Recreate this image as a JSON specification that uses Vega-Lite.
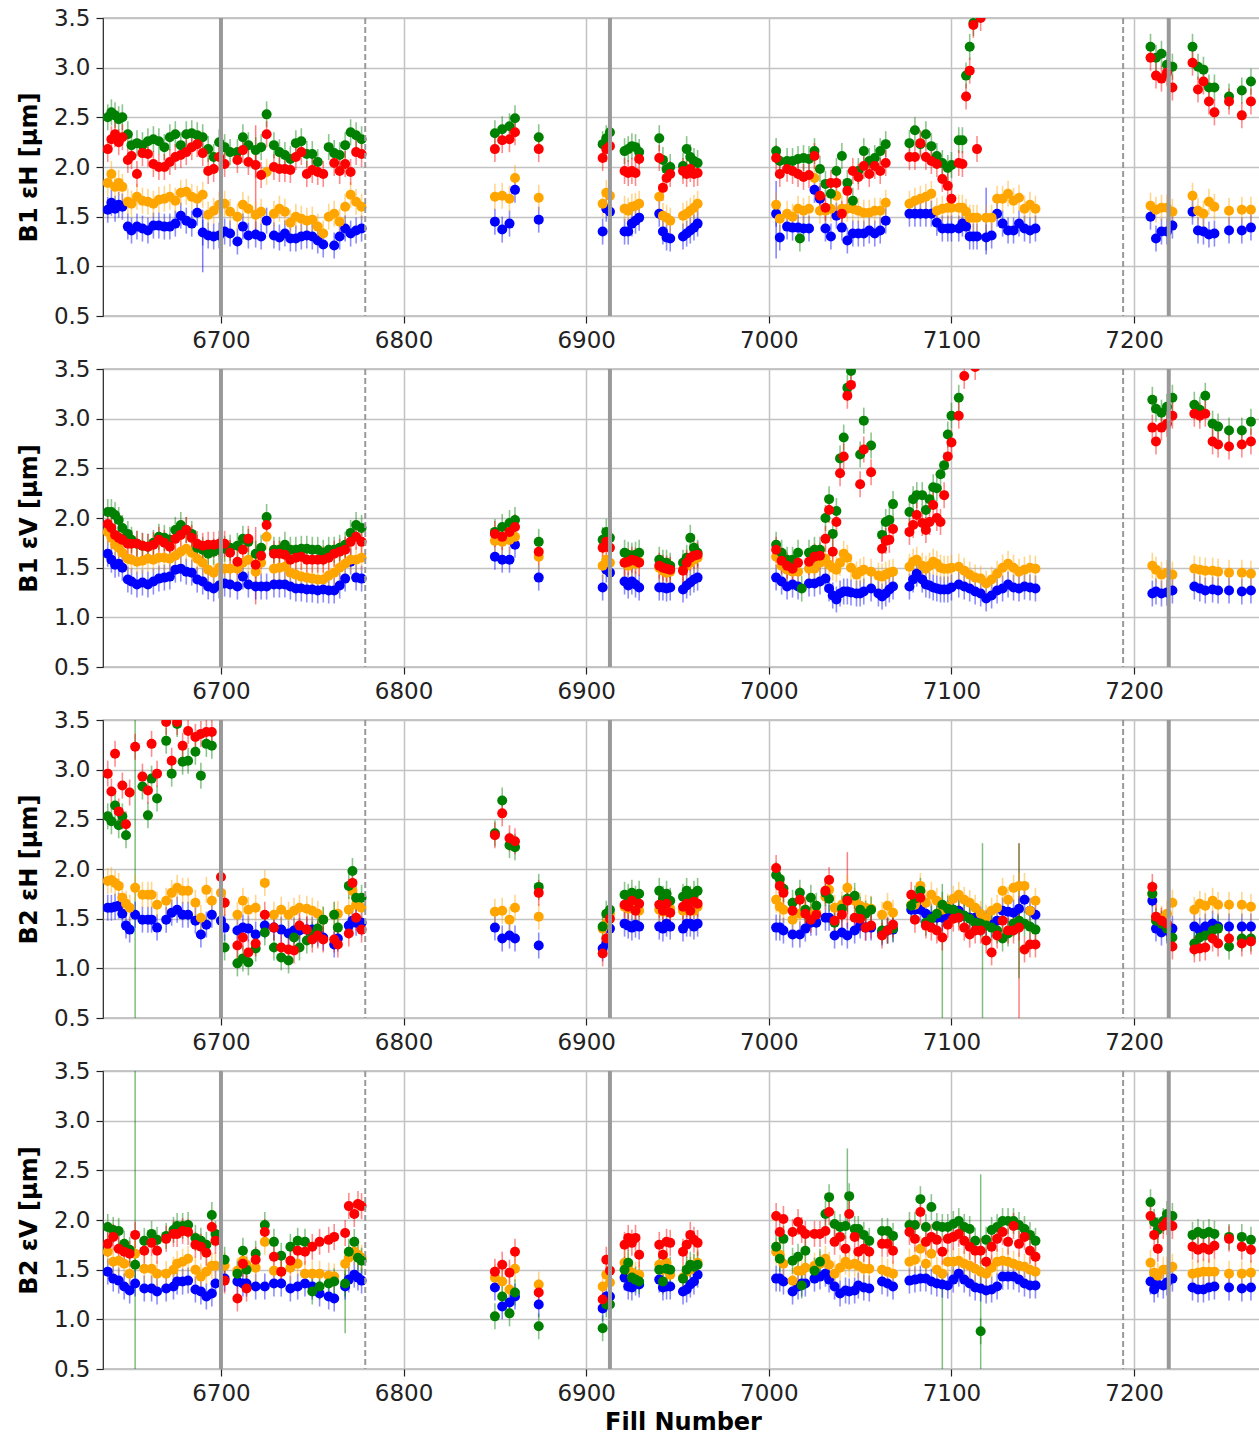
{
"$schema":"https://vega.github.io/schema/vega-lite/v6.json",
"background":"white",
"padding":{"left":16,"top":6,"right":0,"bottom":0},
"datasets":{
"vl":[{"f":6700,"k":"s"},{"f":6913,"k":"s"},{"f":7219,"k":"s"},{"f":6779,"k":"d"},{"f":7194,"k":"d"}],
"eb":[
{"p":1,"f":6690,"s":"t1","lo":0.94,"hi":1.57},{"p":1,"f":7004,"s":"t1","lo":1.08,"hi":1.86},{"p":1,"f":7119,"s":"t1","lo":1.12,"hi":1.79},{"p":1,"f":6719,"s":"t4","lo":1.34,"hi":2.42},
{"p":2,"f":6719,"s":"t4","lo":1.13,"hi":1.91},
{"p":3,"f":6653,"s":"t3","lo":0.3,"hi":3.7},{"p":3,"f":7095,"s":"t3","lo":0.3,"hi":1.85},{"p":3,"f":7117,"s":"t3","lo":0.3,"hi":2.26},{"p":3,"f":7137,"s":"t4","lo":0.3,"hi":2.26},{"p":3,"f":7137,"s":"t3","lo":0.9,"hi":2.26},{"p":3,"f":7043,"s":"t4","lo":1.4,"hi":2.17},
{"p":4,"f":6653,"s":"t3","lo":0.3,"hi":3.7},{"p":4,"f":7095,"s":"t3","lo":0.3,"hi":1.5},{"p":4,"f":7116,"s":"t3","lo":0.3,"hi":2.46},{"p":4,"f":6768,"s":"t3","lo":0.86,"hi":1.6},{"p":4,"f":7043,"s":"t3","lo":1.9,"hi":2.72}
],
"p1":[
{"f":6638,"t1":1.57,"t2":1.84,"t3":2.5,"t4":2.18},{"f":6640,"t1":1.64,"t2":1.93,"t3":2.55,"t4":2.28},{"f":6642,"t1":1.58,"t2":1.8,"t3":2.52,"t4":2.33},{"f":6644,"t1":1.62,"t2":1.84,"t3":2.48,"t4":2.25},{"f":6646,"t1":1.6,"t2":1.8,"t3":2.5,"t4":2.3},{"f":6649,"t1":1.4,"t2":1.65,"t3":2.33,"t4":2.07},{"f":6651,"t1":1.36,"t2":1.63,"t3":2.22,"t4":2.11},{"f":6654,"t1":1.4,"t2":1.7,"t3":2.24,"t4":1.93},{"f":6657,"t1":1.38,"t2":1.66,"t3":2.22,"t4":2.14},{"f":6660,"t1":1.36,"t2":1.65,"t3":2.26,"t4":2.13},{"f":6663,"t1":1.41,"t2":1.63,"t3":2.28,"t4":2.03},{"f":6666,"t1":1.41,"t2":1.67,"t3":2.26,"t4":2.0},{"f":6669,"t1":1.4,"t2":1.68,"t3":2.2,"t4":2.0},{"f":6672,"t1":1.4,"t2":1.7,"t3":2.3,"t4":2.05},{"f":6675,"t1":1.43,"t2":1.66,"t3":2.33,"t4":2.1},{"f":6678,"t1":1.51,"t2":1.74,"t3":2.22,"t4":2.12},{"f":6681,"t1":1.46,"t2":1.75,"t3":2.33,"t4":2.15},{"f":6684,"t1":1.43,"t2":1.7,"t3":2.34,"t4":2.2},{"f":6687,"t1":1.54,"t2":1.68,"t3":2.32,"t4":2.23},{"f":6690,"t1":1.34,"t2":1.72,"t3":2.3,"t4":2.14},{"f":6693,"t1":1.31,"t2":1.52,"t3":2.18,"t4":1.96},{"f":6696,"t1":1.3,"t2":1.56,"t3":2.1,"t4":1.98},{"f":6699,"t1":1.31,"t2":1.62,"t3":2.25,"t4":2.1},{"f":6702,"t1":1.35,"t2":1.63,"t3":2.2,"t4":2.03},{"f":6705,"t1":1.33,"t2":1.55,"t3":2.15},{"f":6709,"t1":1.25,"t2":1.5,"t3":2.15,"t4":2.07},{"f":6712,"t1":1.4,"t2":1.62,"t3":2.3,"t4":2.17},{"f":6715,"t1":1.31,"t2":1.58,"t3":2.22,"t4":2.05},{"f":6719,"t1":1.32,"t2":1.52,"t3":2.17,"t4":2.02},{"f":6722,"t1":1.3,"t2":1.55,"t3":2.2,"t4":1.92},{"f":6725,"t1":1.46,"t2":1.95,"t3":2.53,"t4":2.33},{"f":6729,"t1":1.31,"t2":1.53,"t3":2.22,"t4":2.0},{"f":6732,"t1":1.29,"t2":1.58,"t3":2.15,"t4":1.98},{"f":6735,"t1":1.33,"t2":1.55,"t3":2.12,"t4":1.98},{"f":6738,"t1":1.28,"t2":1.44,"t3":2.08,"t4":1.97},{"f":6741,"t1":1.28,"t2":1.5,"t3":2.24,"t4":2.1},{"f":6744,"t1":1.3,"t2":1.48,"t3":2.26,"t4":2.15},{"f":6747,"t1":1.31,"t2":1.46,"t3":2.13,"t4":1.93},{"f":6750,"t1":1.3,"t2":1.47,"t3":2.13,"t4":1.97},{"f":6753,"t1":1.26,"t2":1.4,"t3":2.05,"t4":1.95},{"f":6756,"t1":1.22,"t2":1.33,"t4":1.93},{"f":6759,"t2":1.5,"t3":2.2},{"f":6762,"t1":1.21,"t2":1.53,"t3":2.14,"t4":2.04},{"f":6765,"t1":1.3,"t2":1.45,"t3":2.12,"t4":1.96},{"f":6768,"t1":1.38,"t2":1.6,"t3":2.22,"t4":2.03},{"f":6771,"t1":1.33,"t2":1.72,"t3":2.35,"t4":1.95},{"f":6774,"t1":1.36,"t2":1.65,"t3":2.32,"t4":2.15},{"f":6777,"t1":1.38,"t2":1.6,"t3":2.28,"t4":2.13},
{"f":6850,"t1":1.45,"t2":1.7,"t3":2.34,"t4":2.18},{"f":6854,"t1":1.37,"t2":1.71,"t3":2.38,"t4":2.27},{"f":6858,"t1":1.43,"t2":1.68,"t3":2.41,"t4":2.28},{"f":6861,"t1":1.77,"t2":1.89,"t3":2.49,"t4":2.35},{"f":6874,"t1":1.47,"t2":1.69,"t3":2.3,"t4":2.18},
{"f":6909,"t1":1.35,"t2":1.63,"t3":2.23,"t4":2.09},{"f":6911,"t1":1.58,"t2":1.74,"t3":2.29,"t4":2.18},{"f":6913,"t1":1.55,"t2":1.71,"t3":2.35,"t4":2.21},{"f":6921,"t1":1.35,"t2":1.58,"t3":2.16,"t4":1.96},{"f":6923,"t1":1.35,"t2":1.56,"t3":2.18,"t4":1.94},{"f":6925,"t1":1.43,"t2":1.6,"t3":2.21,"t4":1.96},{"f":6927,"t1":1.46,"t2":1.61,"t3":2.2,"t4":1.94},{"f":6929,"t1":1.49,"t2":1.63,"t3":2.15,"t4":2.08},{"f":6940,"t1":1.53,"t2":1.7,"t3":2.29,"t4":2.09},{"f":6942,"t1":1.35,"t2":1.51,"t3":2.07,"t4":1.79},{"f":6944,"t1":1.29,"t2":1.49,"t3":1.98,"t4":1.89},{"f":6946,"t1":1.28,"t2":1.46,"t3":2.0,"t4":1.93},{"f":6953,"t1":1.3,"t2":1.51,"t3":2.01,"t4":1.96},{"f":6955,"t1":1.33,"t2":1.53,"t3":2.18,"t4":1.93},{"f":6957,"t1":1.36,"t2":1.56,"t3":2.1,"t4":1.98},{"f":6959,"t1":1.39,"t2":1.59,"t3":2.06,"t4":1.93},{"f":6961,"t1":1.43,"t2":1.63,"t3":2.04,"t4":1.94},
{"f":7004,"t1":1.53,"t2":1.62,"t3":2.16,"t4":2.09},{"f":7006,"t1":1.29,"t2":1.48,"t3":2.06,"t4":1.93},{"f":7010,"t1":1.4,"t2":1.53,"t3":2.06,"t4":1.98},{"f":7013,"t1":1.39,"t2":1.5,"t3":2.06,"t4":1.96},{"f":7016,"t1":1.39,"t2":1.58,"t3":2.08,"t4":1.93},{"f":7017,"t3":1.28},{"f":7019,"t1":1.38,"t2":1.56,"t3":2.09,"t4":1.9},{"f":7022,"t1":1.38,"t2":1.58,"t3":2.08,"t4":1.92},{"f":7025,"t1":1.77,"t2":1.89,"t3":2.16,"t4":2.11},{"f":7028,"t1":1.68,"t2":1.56,"t3":1.98,"t4":1.71},{"f":7031,"t1":1.38,"t2":1.56,"t3":1.83,"t4":1.59},{"f":7034,"t1":1.3,"t2":1.58,"t3":1.73,"t4":1.84},{"f":7037,"t1":1.51,"t2":1.71,"t3":1.96,"t4":1.84},{"f":7040,"t1":1.39,"t2":1.58,"t3":2.11,"t4":1.53},{"f":7043,"t1":1.26,"t2":1.58,"t3":1.84,"t4":1.76},{"f":7046,"t1":1.33,"t2":1.58,"t3":1.66,"t4":1.96},{"f":7049,"t1":1.33,"t2":1.56,"t3":1.96,"t4":1.9},{"f":7052,"t1":1.33,"t2":1.54,"t3":2.16,"t4":2.01},{"f":7055,"t1":1.36,"t2":1.54,"t3":2.06,"t4":1.93},{"f":7058,"t1":1.33,"t2":1.56,"t3":2.09,"t4":2.01},{"f":7061,"t1":1.36,"t2":1.56,"t3":2.16,"t4":1.96},{"f":7064,"t1":1.46,"t2":1.64,"t3":2.23,"t4":2.04},{"f":7077,"t1":1.53,"t2":1.63,"t3":2.24,"t4":2.1},{"f":7080,"t1":1.53,"t2":1.66,"t3":2.37,"t4":2.1},{"f":7083,"t1":1.53,"t2":1.68,"t3":2.23,"t4":2.24},{"f":7086,"t1":1.53,"t2":1.7,"t3":2.33,"t4":2.1},{"f":7089,"t1":1.53,"t2":1.73,"t3":2.21,"t4":2.06},{"f":7092,"t1":1.44,"t2":1.56,"t3":2.11,"t4":2.03},{"f":7095,"t1":1.38,"t2":1.58,"t3":2.04,"t4":1.88},{"f":7098,"t1":1.38,"t2":1.59,"t3":1.99,"t4":1.81},{"f":7100,"t1":1.38,"t2":1.59,"t3":2.02,"t4":1.68},{"f":7104,"t1":1.38,"t2":1.59,"t3":2.27,"t4":2.04},{"f":7106,"t1":1.43,"t2":1.59,"t3":2.27,"t4":2.03},{"f":7108,"t1":1.4,"t2":1.55,"t3":2.92,"t4":2.71},{"f":7110,"t1":1.3,"t2":1.49,"t3":3.21,"t4":2.97},{"f":7112,"t1":1.3,"t2":1.49,"t3":3.45,"t4":3.43},{"f":7114,"t1":1.3,"t2":1.49,"t4":2.18},{"f":7116,"t4":3.5},{"f":7119,"t1":1.29,"t2":1.49},{"f":7122,"t1":1.31,"t2":1.49},{"f":7125,"t1":1.53,"t2":1.68},{"f":7128,"t1":1.43,"t2":1.68},{"f":7131,"t1":1.36,"t2":1.73},{"f":7134,"t1":1.36,"t2":1.66},{"f":7137,"t1":1.43,"t2":1.69},{"f":7140,"t1":1.38,"t2":1.58},{"f":7143,"t1":1.36,"t2":1.62},{"f":7146,"t1":1.38,"t2":1.58},
{"f":7209,"t1":1.5,"t2":1.61,"t3":3.21,"t4":3.1},{"f":7212,"t1":1.28,"t2":1.57,"t3":3.1,"t4":2.92},{"f":7215,"t1":1.35,"t2":1.59,"t3":3.14,"t4":2.89},{"f":7218,"t1":1.35,"t2":1.59,"t3":3.03,"t4":2.95},{"f":7221,"t1":1.41,"t2":1.55,"t3":3.01,"t4":2.8},{"f":7232,"t1":1.55,"t2":1.71,"t3":3.21,"t4":3.05},{"f":7235,"t1":1.36,"t2":1.56,"t3":3.01,"t4":2.78},{"f":7238,"t1":1.35,"t2":1.53,"t3":2.98,"t4":2.86},{"f":7241,"t1":1.32,"t2":1.65,"t3":2.8,"t4":2.66},{"f":7244,"t1":1.33,"t2":1.6,"t3":2.8,"t4":2.55},{"f":7252,"t1":1.36,"t2":1.56,"t3":2.71,"t4":2.66},{"f":7259,"t1":1.36,"t2":1.57,"t3":2.77,"t4":2.52},{"f":7264,"t1":1.39,"t2":1.57,"t3":2.86,"t4":2.66}
],
"p2":[
{"f":6638,"t1":1.64,"t2":1.86,"t3":2.06,"t4":1.94},{"f":6640,"t1":1.58,"t2":1.8,"t3":2.06,"t4":1.9},{"f":6642,"t1":1.53,"t2":1.73,"t3":2.03,"t4":1.83},{"f":6644,"t1":1.54,"t2":1.7,"t3":1.98,"t4":1.8},{"f":6646,"t1":1.5,"t2":1.65,"t3":1.9,"t4":1.78},{"f":6649,"t1":1.38,"t2":1.59,"t3":1.84,"t4":1.74},{"f":6651,"t1":1.36,"t2":1.58,"t3":1.78,"t4":1.74},{"f":6654,"t1":1.33,"t2":1.56,"t3":1.74,"t4":1.74},{"f":6657,"t1":1.35,"t2":1.57,"t3":1.72,"t4":1.72},{"f":6660,"t1":1.33,"t2":1.59,"t3":1.71,"t4":1.71},{"f":6663,"t1":1.36,"t2":1.58,"t3":1.75,"t4":1.73},{"f":6666,"t1":1.39,"t2":1.6,"t3":1.81,"t4":1.78},{"f":6669,"t1":1.4,"t2":1.6,"t3":1.8,"t4":1.75},{"f":6672,"t1":1.41,"t2":1.59,"t3":1.78,"t4":1.71},{"f":6675,"t1":1.48,"t2":1.62,"t3":1.88,"t4":1.79},{"f":6678,"t1":1.49,"t2":1.66,"t3":1.93,"t4":1.83},{"f":6681,"t1":1.46,"t2":1.69,"t3":1.88,"t4":1.88},{"f":6684,"t1":1.45,"t2":1.65,"t3":1.84,"t4":1.8},{"f":6687,"t1":1.38,"t2":1.59,"t3":1.7,"t4":1.74},{"f":6690,"t1":1.36,"t2":1.55,"t3":1.68,"t4":1.72},{"f":6693,"t1":1.31,"t2":1.48,"t3":1.64,"t4":1.73},{"f":6696,"t1":1.29,"t2":1.45,"t3":1.66,"t4":1.73},{"f":6699,"t1":1.32,"t2":1.5,"t3":1.68,"t4":1.74},{"f":6702,"t1":1.34,"t2":1.49,"t3":1.69,"t4":1.74},{"f":6705,"t1":1.33,"t2":1.49,"t3":1.7,"t4":1.65},{"f":6709,"t1":1.31,"t2":1.49,"t3":1.72,"t4":1.56},{"f":6712,"t1":1.41,"t2":1.55,"t3":1.79,"t4":1.68},{"f":6715,"t1":1.33,"t2":1.58,"t3":1.76,"t4":1.79},{"f":6719,"t1":1.31,"t2":1.46,"t3":1.64,"t4":1.53},{"f":6722,"t1":1.31,"t2":1.55,"t3":1.7,"t4":1.62},{"f":6725,"t1":1.31,"t2":1.81,"t3":2.01,"t4":1.93},{"f":6729,"t1":1.33,"t2":1.49,"t3":1.68,"t4":1.64},{"f":6732,"t1":1.33,"t2":1.5,"t3":1.68,"t4":1.64},{"f":6735,"t1":1.33,"t2":1.51,"t3":1.73,"t4":1.63},{"f":6738,"t1":1.31,"t2":1.45,"t3":1.68,"t4":1.58},{"f":6741,"t1":1.29,"t2":1.43,"t3":1.68,"t4":1.6},{"f":6744,"t1":1.29,"t2":1.41,"t3":1.69,"t4":1.61},{"f":6747,"t1":1.28,"t2":1.4,"t3":1.69,"t4":1.58},{"f":6750,"t1":1.28,"t2":1.39,"t3":1.68,"t4":1.58},{"f":6753,"t1":1.27,"t2":1.38,"t3":1.68,"t4":1.58},{"f":6756,"t1":1.28,"t2":1.38,"t3":1.65,"t4":1.58},{"f":6759,"t1":1.27,"t2":1.42,"t3":1.68,"t4":1.6},{"f":6762,"t1":1.27,"t2":1.45,"t3":1.68,"t4":1.64},{"f":6765,"t1":1.32,"t2":1.5,"t3":1.7,"t4":1.66},{"f":6768,"t1":1.39,"t2":1.54,"t3":1.73,"t4":1.68},{"f":6771,"t1":1.56,"t2":1.58,"t3":1.85,"t4":1.76},{"f":6774,"t1":1.4,"t2":1.58,"t3":1.93,"t4":1.81},{"f":6777,"t1":1.39,"t2":1.6,"t3":1.9,"t4":1.76},
{"f":6850,"t1":1.61,"t2":1.77,"t3":1.86,"t4":1.84},{"f":6854,"t1":1.58,"t2":1.76,"t3":1.91,"t4":1.81},{"f":6858,"t1":1.58,"t2":1.78,"t3":1.95,"t4":1.86},{"f":6861,"t1":1.73,"t2":1.81,"t3":1.98,"t4":1.91},{"f":6874,"t1":1.4,"t2":1.61,"t3":1.76,"t4":1.66},
{"f":6909,"t1":1.3,"t2":1.52,"t3":1.78,"t4":1.7},{"f":6911,"t1":1.48,"t2":1.58,"t3":1.86,"t4":1.76},{"f":6913,"t1":1.45,"t2":1.55,"t3":1.8,"t4":1.7},{"f":6921,"t1":1.36,"t2":1.55,"t3":1.65,"t4":1.55},{"f":6923,"t1":1.32,"t2":1.52,"t3":1.63,"t4":1.56},{"f":6925,"t1":1.36,"t2":1.55,"t3":1.62,"t4":1.58},{"f":6927,"t1":1.33,"t2":1.54,"t3":1.63,"t4":1.57},{"f":6929,"t1":1.3,"t2":1.56,"t3":1.65,"t4":1.55},{"f":6940,"t1":1.3,"t2":1.5,"t3":1.58,"t4":1.52},{"f":6942,"t1":1.3,"t2":1.47,"t3":1.55,"t4":1.5},{"f":6944,"t1":1.29,"t2":1.45,"t3":1.55,"t4":1.49},{"f":6946,"t1":1.3,"t2":1.46,"t3":1.52,"t4":1.48},{"f":6953,"t1":1.28,"t2":1.48,"t3":1.55,"t4":1.47},{"f":6955,"t1":1.32,"t2":1.52,"t3":1.6,"t4":1.55},{"f":6957,"t1":1.35,"t2":1.55,"t3":1.8,"t4":1.6},{"f":6959,"t1":1.38,"t2":1.58,"t3":1.7,"t4":1.62},{"f":6961,"t1":1.4,"t2":1.6,"t3":1.65,"t4":1.63},
{"f":7004,"t1":1.4,"t2":1.61,"t3":1.73,"t4":1.68},{"f":7007,"t1":1.36,"t2":1.52,"t3":1.65,"t4":1.57},{"f":7010,"t1":1.31,"t2":1.48,"t3":1.58,"t4":1.52},{"f":7013,"t1":1.33,"t2":1.46,"t3":1.58,"t4":1.49},{"f":7016,"t1":1.31,"t2":1.46,"t3":1.65,"t4":1.55},{"f":7018,"t3":1.29},{"f":7022,"t1":1.34,"t2":1.49,"t3":1.65,"t4":1.56},{"f":7025,"t1":1.34,"t2":1.49,"t3":1.68,"t4":1.61},{"f":7028,"t1":1.36,"t2":1.55,"t3":1.68,"t4":1.62},{"f":7031,"t1":1.39,"t2":1.59,"t3":2.0,"t4":1.79},{"f":7033,"t1":1.29,"t2":1.53,"t3":2.19,"t4":2.08},{"f":7035,"t1":1.22,"t2":1.5,"t3":1.84,"t4":1.66},{"f":7037,"t1":1.18,"t2":1.48,"t3":2.07,"t4":1.96},{"f":7039,"t1":1.24,"t2":1.55,"t3":2.6,"t4":2.45},{"f":7041,"t1":1.26,"t2":1.64,"t3":2.81,"t4":2.62},{"f":7043,"t1":1.26,"t2":1.6,"t3":3.31,"t4":3.23},{"f":7045,"t1":1.25,"t2":1.5,"t3":3.48,"t4":3.34},{"f":7048,"t1":1.24,"t2":1.43},{"f":7050,"t1":1.24,"t2":1.46,"t3":2.64,"t4":2.34},{"f":7052,"t1":1.26,"t2":1.48,"t3":2.98,"t4":2.69},{"f":7056,"t1":1.29,"t2":1.46,"t3":2.73,"t4":2.46},{"f":7060,"t1":1.24,"t2":1.42},{"f":7062,"t1":1.21,"t2":1.41,"t3":1.83,"t4":1.69},{"f":7064,"t1":1.24,"t2":1.43,"t3":1.96,"t4":1.77},{"f":7066,"t1":1.28,"t2":1.45,"t3":1.98,"t4":1.78},{"f":7068,"t1":1.31,"t2":1.46,"t3":2.14,"t4":1.89},{"f":7077,"t1":1.31,"t2":1.51,"t3":2.06,"t4":1.86},{"f":7079,"t1":1.38,"t2":1.56,"t3":2.19,"t4":1.93},{"f":7081,"t1":1.44,"t2":1.58,"t3":2.23,"t4":2.03},{"f":7084,"t1":1.38,"t2":1.52,"t3":2.23,"t4":1.95},{"f":7086,"t1":1.33,"t2":1.49,"t3":2.08,"t4":1.88},{"f":7088,"t1":1.32,"t2":1.52,"t3":2.19,"t4":1.96},{"f":7090,"t1":1.3,"t2":1.56,"t3":2.31,"t4":2.13},{"f":7092,"t1":1.29,"t2":1.54,"t3":2.3,"t4":2.0},{"f":7094,"t1":1.28,"t2":1.5,"t3":2.44,"t4":1.96},{"f":7096,"t1":1.28,"t2":1.49,"t3":2.53,"t4":2.23},{"f":7098,"t1":1.28,"t2":1.49,"t3":2.84,"t4":2.62},{"f":7100,"t1":1.3,"t2":1.5,"t3":3.03,"t4":2.76},{"f":7104,"t1":1.33,"t2":1.51,"t3":3.21,"t4":3.03},{"f":7107,"t1":1.31,"t2":1.47,"t4":3.43},{"f":7110,"t1":1.29,"t2":1.43},{"f":7113,"t1":1.26,"t2":1.4,"t4":3.52},{"f":7116,"t1":1.24,"t2":1.39},{"f":7119,"t1":1.19,"t2":1.34},{"f":7122,"t1":1.22,"t2":1.38},{"f":7125,"t1":1.27,"t2":1.44},{"f":7128,"t1":1.29,"t2":1.5},{"f":7131,"t1":1.33,"t2":1.54},{"f":7134,"t1":1.3,"t2":1.5},{"f":7137,"t1":1.29,"t2":1.46},{"f":7140,"t1":1.31,"t2":1.48},{"f":7143,"t1":1.3,"t2":1.5},{"f":7146,"t1":1.29,"t2":1.49},
{"f":7210,"t1":1.24,"t2":1.52,"t3":3.19,"t4":2.91},{"f":7212,"t1":1.26,"t2":1.48,"t3":3.1,"t4":2.77},{"f":7215,"t1":1.24,"t2":1.43,"t3":3.06,"t4":2.91},{"f":7218,"t1":1.25,"t2":1.45,"t3":3.12,"t4":2.95},{"f":7221,"t1":1.27,"t2":1.43,"t3":3.21,"t4":3.03},{"f":7233,"t1":1.31,"t2":1.49,"t3":3.14,"t4":3.05},{"f":7236,"t1":1.29,"t2":1.48,"t3":3.09,"t4":3.03},{"f":7239,"t1":1.27,"t2":1.47,"t3":3.23,"t4":3.05},{"f":7243,"t1":1.28,"t2":1.47,"t3":2.95,"t4":2.77},{"f":7246,"t1":1.27,"t2":1.46,"t3":2.92,"t4":2.74},{"f":7252,"t1":1.27,"t2":1.45,"t3":2.88,"t4":2.72},{"f":7259,"t1":1.26,"t2":1.45,"t3":2.88,"t4":2.74},{"f":7264,"t1":1.27,"t2":1.44,"t3":2.97,"t4":2.77}
],
"p3":[
{"f":6638,"t1":1.61,"t2":1.88,"t3":2.53,"t4":2.96},{"f":6640,"t1":1.61,"t2":1.89,"t3":2.48,"t4":2.78},{"f":6642,"t1":1.62,"t2":1.86,"t3":2.64,"t4":3.16},{"f":6644,"t1":1.63,"t2":1.83,"t3":2.44,"t4":2.58},{"f":6646,"t1":1.55,"t2":1.71,"t3":2.53,"t4":2.84},{"f":6648,"t1":1.43,"t2":1.65,"t3":2.34,"t4":2.45},{"f":6650,"t1":1.39,"t2":1.61,"t4":2.77},{"f":6653,"t1":1.54,"t2":1.81,"t4":3.23},{"f":6657,"t1":1.49,"t2":1.74,"t3":2.83,"t4":2.93},{"f":6660,"t1":1.49,"t2":1.74,"t3":2.54,"t4":2.79},{"f":6662,"t1":1.49,"t2":1.74,"t3":2.91,"t4":3.26},{"f":6665,"t1":1.41,"t2":1.64,"t3":2.71,"t4":2.96},{"f":6670,"t1":1.49,"t2":1.68,"t3":3.29,"t4":3.48},{"f":6673,"t1":1.56,"t2":1.76,"t3":2.96,"t4":3.09},{"f":6676,"t1":1.59,"t2":1.81,"t3":3.46,"t4":3.48},{"f":6679,"t1":1.54,"t2":1.78,"t3":3.08,"t4":3.24},{"f":6682,"t1":1.54,"t2":1.78,"t3":3.09,"t4":3.39},{"f":6686,"t1":1.48,"t2":1.66,"t3":3.18,"t4":3.33},{"f":6689,"t1":1.34,"t2":1.51,"t3":2.94,"t4":3.36},{"f":6692,"t1":1.44,"t2":1.79,"t3":3.26,"t4":3.38},{"f":6695,"t1":1.54,"t2":1.68,"t3":3.24,"t4":3.38},{"f":6700,"t1":1.48,"t2":1.76,"t4":1.92},{"f":6702,"t1":1.41,"t2":1.66,"t3":1.21,"t4":1.66},{"f":6709,"t1":1.38,"t2":1.54,"t3":1.05,"t4":1.23},{"f":6712,"t1":1.41,"t2":1.68,"t3":1.1,"t4":1.31},{"f":6715,"t1":1.4,"t2":1.59,"t3":1.06,"t4":1.16},{"f":6719,"t1":1.34,"t2":1.61,"t3":1.2,"t4":1.25},{"f":6724,"t1":1.43,"t2":1.86,"t3":1.36,"t4":1.54},{"f":6729,"t1":1.41,"t2":1.54,"t3":1.21,"t4":1.41},{"f":6733,"t1":1.39,"t2":1.59,"t3":1.11,"t4":1.21},{"f":6737,"t1":1.35,"t2":1.54,"t3":1.08,"t4":1.19},{"f":6740,"t1":1.38,"t2":1.58,"t3":1.31,"t4":1.18},{"f":6743,"t1":1.38,"t2":1.61,"t3":1.21,"t4":1.43},{"f":6747,"t1":1.39,"t2":1.6,"t3":1.28,"t4":1.39},{"f":6750,"t1":1.39,"t2":1.58,"t3":1.34,"t4":1.29},{"f":6753,"t1":1.35,"t2":1.55,"t3":1.4,"t4":1.33},{"f":6756,"t1":1.31,"t2":1.49,"t3":1.49,"t4":1.29},{"f":6762,"t1":1.24,"t2":1.54,"t3":1.54,"t4":1.29},{"f":6764,"t1":1.3,"t2":1.55,"t3":1.41,"t4":1.24},{"f":6770,"t1":1.43,"t2":1.59,"t3":1.83,"t4":1.35},{"f":6772,"t1":1.48,"t2":1.78,"t3":1.98,"t4":1.86},{"f":6774,"t1":1.46,"t2":1.64,"t3":1.71,"t4":1.51},{"f":6777,"t1":1.46,"t2":1.61,"t3":1.71,"t4":1.39},
{"f":6850,"t1":1.41,"t2":1.57,"t3":2.36,"t4":2.34},{"f":6854,"t1":1.3,"t2":1.58,"t3":2.69,"t4":2.56},{"f":6858,"t1":1.33,"t2":1.49,"t3":2.24,"t4":2.31},{"f":6861,"t1":1.3,"t2":1.61,"t3":2.22,"t4":2.28},{"f":6874,"t1":1.23,"t2":1.52,"t3":1.82,"t4":1.76},
{"f":6909,"t1":1.2,"t2":1.4,"t3":1.42,"t4":1.15},{"f":6911,"t1":1.25,"t2":1.45,"t3":1.55,"t4":1.3},{"f":6913,"t1":1.4,"t2":1.55,"t3":1.59,"t4":1.5},{"f":6921,"t1":1.45,"t2":1.62,"t3":1.74,"t4":1.64},{"f":6923,"t1":1.43,"t2":1.6,"t3":1.72,"t4":1.62},{"f":6925,"t1":1.41,"t2":1.63,"t3":1.76,"t4":1.68},{"f":6927,"t1":1.44,"t2":1.6,"t3":1.7,"t4":1.58},{"f":6929,"t1":1.42,"t2":1.58,"t3":1.75,"t4":1.65},{"f":6940,"t1":1.42,"t2":1.59,"t3":1.78,"t4":1.64},{"f":6942,"t1":1.4,"t2":1.57,"t3":1.7,"t4":1.58},{"f":6944,"t1":1.45,"t2":1.62,"t3":1.75,"t4":1.65},{"f":6946,"t1":1.42,"t2":1.6,"t3":1.68,"t4":1.56},{"f":6953,"t1":1.4,"t2":1.58,"t3":1.72,"t4":1.62},{"f":6955,"t1":1.45,"t2":1.62,"t3":1.78,"t4":1.65},{"f":6957,"t1":1.45,"t2":1.63,"t3":1.7,"t4":1.58},{"f":6959,"t1":1.42,"t2":1.58,"t3":1.75,"t4":1.67},{"f":6961,"t1":1.45,"t2":1.62,"t3":1.78,"t4":1.65},
{"f":7004,"t1":1.41,"t2":1.69,"t3":1.94,"t4":2.01},{"f":7006,"t1":1.41,"t2":1.62,"t3":1.9,"t4":1.83},{"f":7008,"t1":1.38,"t2":1.59,"t3":1.8,"t4":1.76},{"f":7013,"t1":1.34,"t2":1.49,"t3":1.66,"t4":1.58},{"f":7017,"t1":1.34,"t2":1.55,"t3":1.76,"t4":1.69},{"f":7020,"t1":1.4,"t2":1.59,"t3":1.59,"t4":1.55},{"f":7023,"t1":1.46,"t2":1.54,"t3":1.71,"t4":1.49},{"f":7026,"t1":1.46,"t2":1.56,"t3":1.63,"t4":1.54},{"f":7031,"t1":1.51,"t2":1.72,"t3":1.76,"t4":1.78},{"f":7033,"t1":1.51,"t2":1.79,"t3":1.7,"t4":1.89},{"f":7036,"t1":1.33,"t2":1.61,"t3":1.46,"t4":1.48},{"f":7040,"t1":1.36,"t2":1.64,"t3":1.6,"t4":1.54},{"f":7043,"t1":1.33,"t2":1.81,"t3":1.7,"t4":1.68},{"f":7047,"t1":1.38,"t2":1.68,"t3":1.73,"t4":1.51},{"f":7050,"t1":1.43,"t2":1.63,"t3":1.59,"t4":1.5},{"f":7053,"t1":1.41,"t2":1.61,"t3":1.55,"t4":1.41},{"f":7056,"t1":1.41,"t2":1.6,"t3":1.59,"t4":1.43},{"f":7062,"t1":1.36,"t2":1.54,"t3":1.38,"t4":1.33},{"f":7065,"t1":1.38,"t2":1.63,"t3":1.38,"t4":1.38},{"f":7068,"t1":1.39,"t2":1.56,"t3":1.4,"t4":1.44},{"f":7078,"t1":1.59,"t2":1.64,"t3":1.63,"t4":1.74},{"f":7080,"t1":1.59,"t2":1.64,"t3":1.7,"t4":1.49},{"f":7083,"t1":1.59,"t2":1.83,"t3":1.78,"t4":1.71},{"f":7086,"t1":1.55,"t2":1.66,"t3":1.46,"t4":1.43},{"f":7089,"t1":1.52,"t2":1.74,"t3":1.5,"t4":1.41},{"f":7092,"t1":1.51,"t2":1.68,"t3":1.55,"t4":1.38},{"f":7095,"t1":1.51,"t2":1.59,"t3":1.64,"t4":1.31},{"f":7098,"t1":1.55,"t2":1.62,"t3":1.6,"t4":1.44},{"f":7101,"t1":1.59,"t2":1.7,"t3":1.59,"t4":1.5},{"f":7104,"t1":1.58,"t2":1.74,"t3":1.55,"t4":1.51},{"f":7107,"t1":1.53,"t2":1.69,"t3":1.53,"t4":1.41},{"f":7110,"t1":1.51,"t2":1.66,"t3":1.5,"t4":1.34},{"f":7113,"t1":1.51,"t2":1.61,"t3":1.46,"t4":1.38},{"f":7116,"t1":1.49,"t2":1.55,"t3":1.45,"t4":1.38},{"f":7119,"t1":1.46,"t2":1.51,"t3":1.43,"t4":1.28},{"f":7122,"t1":1.44,"t2":1.58,"t3":1.41,"t4":1.16},{"f":7125,"t1":1.48,"t2":1.61,"t3":1.38,"t4":1.33},{"f":7128,"t1":1.58,"t2":1.78,"t3":1.3,"t4":1.48},{"f":7131,"t1":1.57,"t2":1.69,"t3":1.35,"t4":1.38},{"f":7134,"t1":1.56,"t2":1.81,"t3":1.45,"t4":1.38},{"f":7137,"t1":1.6,"t2":1.83,"t3":1.48,"t4":1.41},{"f":7140,"t1":1.69,"t2":1.83,"t3":1.45,"t4":1.19},{"f":7143,"t1":1.58,"t2":1.58,"t3":1.42,"t4":1.24},{"f":7146,"t1":1.54,"t2":1.68,"t3":1.39,"t4":1.24},
{"f":7210,"t1":1.68,"t2":1.75,"t3":1.75,"t4":1.82},{"f":7212,"t1":1.4,"t2":1.52,"t3":1.48,"t4":1.52},{"f":7215,"t1":1.36,"t2":1.5,"t3":1.45,"t4":1.48},{"f":7218,"t1":1.38,"t2":1.55,"t3":1.4,"t4":1.45},{"f":7221,"t1":1.4,"t2":1.66,"t3":1.31,"t4":1.22},{"f":7233,"t1":1.42,"t2":1.59,"t3":1.25,"t4":1.19},{"f":7236,"t1":1.38,"t2":1.65,"t3":1.31,"t4":1.2},{"f":7239,"t1":1.42,"t2":1.63,"t3":1.33,"t4":1.21},{"f":7243,"t1":1.45,"t2":1.68,"t3":1.38,"t4":1.3},{"f":7246,"t1":1.42,"t2":1.64,"t3":1.4,"t4":1.25},{"f":7252,"t1":1.42,"t2":1.64,"t3":1.22,"t4":1.3},{"f":7259,"t1":1.42,"t2":1.64,"t3":1.3,"t4":1.25},{"f":7264,"t1":1.42,"t2":1.62,"t3":1.3,"t4":1.27}
],
"p4":[
{"f":6638,"t1":1.48,"t2":1.68,"t3":1.93,"t4":1.76},{"f":6641,"t1":1.41,"t2":1.58,"t3":1.9,"t4":1.83},{"f":6644,"t1":1.39,"t2":1.59,"t3":1.89,"t4":1.71},{"f":6647,"t1":1.33,"t2":1.56,"t3":1.76,"t4":1.68},{"f":6650,"t1":1.29,"t2":1.46,"t3":1.7,"t4":1.66},{"f":6653,"t1":1.36,"t2":1.66,"t3":1.55,"t4":1.85},{"f":6658,"t1":1.31,"t2":1.51,"t3":1.79,"t4":1.69},{"f":6662,"t1":1.31,"t2":1.51,"t3":1.86,"t4":1.77},{"f":6665,"t1":1.28,"t2":1.46,"t3":1.8,"t4":1.69},{"f":6670,"t1":1.31,"t2":1.46,"t3":1.84,"t4":1.81},{"f":6674,"t1":1.33,"t2":1.5,"t3":1.9,"t4":1.86},{"f":6676,"t1":1.38,"t2":1.56,"t3":1.94,"t4":1.86},{"f":6679,"t1":1.38,"t2":1.58,"t3":1.94,"t4":1.89},{"f":6682,"t1":1.39,"t2":1.61,"t3":1.95,"t4":1.88},{"f":6686,"t1":1.3,"t2":1.5,"t3":1.82,"t4":1.75},{"f":6689,"t1":1.28,"t2":1.43,"t3":1.79,"t4":1.73},{"f":6692,"t1":1.23,"t2":1.48,"t3":1.75,"t4":1.67},{"f":6695,"t1":1.26,"t2":1.54,"t3":2.05,"t4":1.93},{"f":6697,"t1":1.36,"t2":1.54,"t3":1.86,"t4":1.79},{"f":6702,"t1":1.41,"t2":1.54,"t3":1.6,"t4":1.39},{"f":6709,"t1":1.38,"t2":1.49,"t3":1.46,"t4":1.21},{"f":6712,"t1":1.36,"t2":1.59,"t3":1.69,"t4":1.56},{"f":6714,"t1":1.36,"t2":1.55,"t3":1.5,"t4":1.31},{"f":6719,"t1":1.33,"t2":1.52,"t3":1.66,"t4":1.6},{"f":6724,"t1":1.33,"t2":1.78,"t3":1.95,"t4":1.88},{"f":6729,"t1":1.36,"t2":1.49,"t3":1.78,"t4":1.63},{"f":6733,"t1":1.36,"t2":1.48,"t3":1.64,"t4":1.48},{"f":6738,"t1":1.31,"t2":1.52,"t3":1.73,"t4":1.59},{"f":6742,"t1":1.33,"t2":1.56,"t3":1.79,"t4":1.69},{"f":6746,"t1":1.36,"t2":1.46,"t3":1.78,"t4":1.68},{"f":6750,"t1":1.33,"t2":1.46,"t3":1.28,"t4":1.73},{"f":6754,"t1":1.26,"t2":1.46,"t3":1.33,"t4":1.78},{"f":6759,"t1":1.23,"t2":1.44,"t3":1.36,"t4":1.8},{"f":6762,"t1":1.21,"t2":1.43,"t3":1.38,"t4":1.83},{"f":6768,"t1":1.33,"t2":1.56,"t3":1.36,"t4":1.87},{"f":6770,"t1":1.4,"t2":1.62,"t3":1.68,"t4":2.14},{"f":6773,"t1":1.45,"t2":1.68,"t3":1.78,"t4":2.06},{"f":6775,"t1":1.42,"t2":1.65,"t3":1.62,"t4":2.16},{"f":6777,"t1":1.39,"t2":1.62,"t3":1.59,"t4":2.14},
{"f":6850,"t1":1.32,"t2":1.42,"t3":1.03,"t4":1.48},{"f":6854,"t1":1.13,"t2":1.38,"t3":1.23,"t4":1.55},{"f":6858,"t1":1.17,"t2":1.3,"t3":1.06,"t4":1.47},{"f":6861,"t1":1.23,"t2":1.51,"t3":1.27,"t4":1.68},{"f":6874,"t1":1.15,"t2":1.35,"t3":0.93,"t4":1.27},
{"f":6909,"t1":1.11,"t2":1.33,"t3":0.91,"t4":1.2},{"f":6911,"t1":1.23,"t2":1.45,"t3":1.15,"t4":1.6},{"f":6913,"t1":1.23,"t2":1.37,"t3":1.15,"t4":1.49},{"f":6921,"t1":1.42,"t2":1.57,"t3":1.5,"t4":1.75},{"f":6923,"t1":1.33,"t2":1.55,"t3":1.57,"t4":1.82},{"f":6925,"t1":1.32,"t2":1.47,"t3":1.42,"t4":1.77},{"f":6927,"t1":1.37,"t2":1.45,"t3":1.4,"t4":1.82},{"f":6929,"t1":1.35,"t2":1.45,"t3":1.38,"t4":1.65},{"f":6940,"t1":1.4,"t2":1.55,"t3":1.5,"t4":1.75},{"f":6942,"t1":1.32,"t2":1.5,"t3":1.38,"t4":1.65},{"f":6944,"t1":1.33,"t2":1.57,"t3":1.51,"t4":1.78},{"f":6946,"t1":1.33,"t2":1.45,"t3":1.5,"t4":1.77},{"f":6953,"t1":1.28,"t2":1.42,"t3":1.41,"t4":1.68},{"f":6955,"t1":1.3,"t2":1.48,"t3":1.5,"t4":1.75},{"f":6957,"t1":1.35,"t2":1.5,"t3":1.55,"t4":1.85},{"f":6959,"t1":1.38,"t2":1.53,"t3":1.53,"t4":1.8},{"f":6961,"t1":1.45,"t2":1.57,"t3":1.55,"t4":1.77},
{"f":7004,"t1":1.41,"t2":1.68,"t3":1.73,"t4":2.04},{"f":7006,"t1":1.41,"t2":1.65,"t3":1.61,"t4":1.88},{"f":7008,"t1":1.38,"t2":1.56,"t3":1.81,"t4":2.01},{"f":7013,"t1":1.28,"t2":1.39,"t3":1.59,"t4":1.88},{"f":7016,"t1":1.33,"t2":1.49,"t3":1.63,"t4":1.98},{"f":7018,"t1":1.36,"t2":1.49,"t3":1.34,"t4":1.9},{"f":7020,"t1":1.36,"t2":1.52,"t3":1.69,"t4":1.86},{"f":7025,"t1":1.41,"t2":1.54,"t3":1.49,"t4":1.86},{"f":7028,"t1":1.43,"t2":1.56,"t3":1.58,"t4":1.86},{"f":7031,"t1":1.46,"t2":1.61,"t3":2.06,"t4":1.89},{"f":7033,"t1":1.4,"t2":1.55,"t3":2.23,"t4":2.08},{"f":7036,"t1":1.33,"t2":1.46,"t3":1.96,"t4":1.78},{"f":7039,"t1":1.26,"t2":1.52,"t3":1.93,"t4":1.83},{"f":7042,"t1":1.29,"t2":1.58,"t3":1.94,"t4":1.71},{"f":7044,"t1":1.28,"t2":1.55,"t3":2.24,"t4":2.06},{"f":7047,"t1":1.29,"t2":1.56,"t3":1.91,"t4":1.83},{"f":7049,"t1":1.34,"t2":1.54,"t3":1.91,"t4":1.68},{"f":7052,"t1":1.32,"t2":1.51,"t3":1.85,"t4":1.71},{"f":7055,"t1":1.31,"t2":1.51,"t3":1.79,"t4":1.68},{"f":7062,"t1":1.38,"t2":1.5,"t3":1.89,"t4":1.76},{"f":7065,"t1":1.36,"t2":1.48,"t3":1.89,"t4":1.76},{"f":7068,"t1":1.33,"t2":1.46,"t3":1.84,"t4":1.69},{"f":7077,"t1":1.39,"t2":1.58,"t3":1.95,"t4":1.88},{"f":7080,"t1":1.4,"t2":1.6,"t3":1.95,"t4":1.81},{"f":7083,"t1":1.41,"t2":1.71,"t3":2.21,"t4":2.08},{"f":7086,"t1":1.41,"t2":1.56,"t3":1.93,"t4":1.78},{"f":7089,"t1":1.38,"t2":1.66,"t3":2.13,"t4":1.83},{"f":7092,"t1":1.36,"t2":1.5,"t3":1.94,"t4":1.8},{"f":7095,"t1":1.35,"t2":1.46,"t3":1.93,"t4":1.68},{"f":7098,"t1":1.34,"t2":1.58,"t3":1.93,"t4":1.81},{"f":7101,"t1":1.4,"t2":1.58,"t3":1.96,"t4":1.83},{"f":7104,"t1":1.46,"t2":1.59,"t3":1.99,"t4":1.86},{"f":7107,"t1":1.4,"t2":1.56,"t3":1.93,"t4":1.79},{"f":7110,"t1":1.36,"t2":1.54,"t3":1.91,"t4":1.73},{"f":7113,"t1":1.32,"t2":1.51,"t3":1.79,"t4":1.69},{"f":7116,"t1":1.31,"t2":1.48,"t3":0.88,"t4":1.69},{"f":7119,"t1":1.29,"t2":1.46,"t3":1.8,"t4":1.58},{"f":7122,"t1":1.3,"t2":1.52,"t3":1.9,"t4":1.73},{"f":7125,"t1":1.33,"t2":1.58,"t3":1.93,"t4":1.81},{"f":7128,"t1":1.43,"t2":1.59,"t3":1.99,"t4":1.88},{"f":7131,"t1":1.43,"t2":1.58,"t3":1.99,"t4":1.78},{"f":7134,"t1":1.43,"t2":1.56,"t3":1.99,"t4":1.94},{"f":7137,"t1":1.4,"t2":1.54,"t3":1.95,"t4":1.76},{"f":7140,"t1":1.36,"t2":1.53,"t3":1.91,"t4":1.83},{"f":7143,"t1":1.34,"t2":1.5,"t3":1.85,"t4":1.69},{"f":7146,"t1":1.34,"t2":1.48,"t3":1.79,"t4":1.63},
{"f":7209,"t1":1.38,"t2":1.57,"t3":2.18,"t4":2.04},{"f":7211,"t1":1.3,"t2":1.47,"t3":1.98,"t4":1.85},{"f":7213,"t1":1.35,"t2":1.44,"t3":1.9,"t4":1.71},{"f":7216,"t1":1.34,"t2":1.5,"t3":1.99,"t4":1.94},{"f":7218,"t1":1.37,"t2":1.5,"t3":2.06,"t4":1.98},{"f":7221,"t1":1.41,"t2":1.53,"t3":2.04,"t4":1.94},{"f":7232,"t1":1.32,"t2":1.46,"t3":1.85,"t4":1.73},{"f":7235,"t1":1.3,"t2":1.47,"t3":1.88,"t4":1.7},{"f":7238,"t1":1.3,"t2":1.48,"t3":1.86,"t4":1.72},{"f":7241,"t1":1.32,"t2":1.48,"t3":1.88,"t4":1.7},{"f":7244,"t1":1.33,"t2":1.48,"t3":1.86,"t4":1.74},{"f":7252,"t1":1.32,"t2":1.46,"t3":1.83,"t4":1.81},{"f":7259,"t1":1.31,"t2":1.46,"t3":1.83,"t4":1.73},{"f":7264,"t1":1.32,"t2":1.47,"t3":1.8,"t4":1.7}
]
},
"vconcat":[
{"width":1160,"height":298,
"encoding":{"x":{"field":"f","type":"quantitative","scale":{"domain":[6635.4,7270.6],"nice":false,"zero":false},"axis":{"values":[6700,6800,6900,7000,7100,7200],"format":"d"},"title":null}},
"layer":[
{"data":{"name":"eb"},"transform":[{"filter":"datum.p==1"}],"mark":{"type":"rule","clip":true,"strokeWidth":1.5,"opacity":0.5},"encoding":{"y":{"field":"lo","type":"quantitative","scale":{"domain":[0.5,3.5],"nice":false,"zero":false},"axis":{"values":[0.5,1,1.5,2,2.5,3,3.5],"format":".1f"},"title":"B1 εH [μm]"},"y2":{"field":"hi"},"color":{"field":"s","type":"nominal","scale":{"domain":["t1","t2","t3","t4"],"range":["#0000ff","#ffa500","#008000","#ff0000"]},"legend":null}}},
{"data":{"name":"p1"},"transform":[{"fold":["t1","t2","t3","t4"],"as":["s","v"]},{"filter":"isValid(datum.v)"}],"mark":{"type":"tick","orient":"vertical","size":26,"thickness":1.6,"opacity":0.45,"clip":true},"encoding":{"y":{"field":"v","type":"quantitative","title":"B1 εH [μm]"},"color":{"field":"s","type":"nominal","legend":null}}},
{"data":{"name":"p1"},"transform":[{"fold":["t1","t2","t3","t4"],"as":["s","v"]},{"filter":"isValid(datum.v)"}],"mark":{"type":"point","filled":true,"size":100,"opacity":1,"clip":true},"encoding":{"y":{"field":"v","type":"quantitative","title":"B1 εH [μm]"},"color":{"field":"s","type":"nominal","legend":null},"order":{"field":"s"}}},
{"data":{"name":"vl"},"transform":[{"filter":"datum.k=='s'"}],"mark":{"type":"rule","color":"#999999","strokeWidth":4},"encoding":{}},
{"data":{"name":"vl"},"transform":[{"filter":"datum.k=='d'"}],"mark":{"type":"rule","color":"#999999","strokeWidth":2,"strokeDash":[6,3]},"encoding":{}}
]},
{"width":1160,"height":298,
"encoding":{"x":{"field":"f","type":"quantitative","scale":{"domain":[6635.4,7270.6],"nice":false,"zero":false},"axis":{"values":[6700,6800,6900,7000,7100,7200],"format":"d"},"title":null}},
"layer":[
{"data":{"name":"eb"},"transform":[{"filter":"datum.p==2"}],"mark":{"type":"rule","clip":true,"strokeWidth":1.5,"opacity":0.5},"encoding":{"y":{"field":"lo","type":"quantitative","scale":{"domain":[0.5,3.5],"nice":false,"zero":false},"axis":{"values":[0.5,1,1.5,2,2.5,3,3.5],"format":".1f"},"title":"B1 εV [μm]"},"y2":{"field":"hi"},"color":{"field":"s","type":"nominal","scale":{"domain":["t1","t2","t3","t4"],"range":["#0000ff","#ffa500","#008000","#ff0000"]},"legend":null}}},
{"data":{"name":"p2"},"transform":[{"fold":["t1","t2","t3","t4"],"as":["s","v"]},{"filter":"isValid(datum.v)"}],"mark":{"type":"tick","orient":"vertical","size":26,"thickness":1.6,"opacity":0.45,"clip":true},"encoding":{"y":{"field":"v","type":"quantitative","title":"B1 εV [μm]"},"color":{"field":"s","type":"nominal","legend":null}}},
{"data":{"name":"p2"},"transform":[{"fold":["t1","t2","t3","t4"],"as":["s","v"]},{"filter":"isValid(datum.v)"}],"mark":{"type":"point","filled":true,"size":100,"opacity":1,"clip":true},"encoding":{"y":{"field":"v","type":"quantitative","title":"B1 εV [μm]"},"color":{"field":"s","type":"nominal","legend":null},"order":{"field":"s"}}},
{"data":{"name":"vl"},"transform":[{"filter":"datum.k=='s'"}],"mark":{"type":"rule","color":"#999999","strokeWidth":4},"encoding":{}},
{"data":{"name":"vl"},"transform":[{"filter":"datum.k=='d'"}],"mark":{"type":"rule","color":"#999999","strokeWidth":2,"strokeDash":[6,3]},"encoding":{}}
]},
{"width":1160,"height":298,
"encoding":{"x":{"field":"f","type":"quantitative","scale":{"domain":[6635.4,7270.6],"nice":false,"zero":false},"axis":{"values":[6700,6800,6900,7000,7100,7200],"format":"d"},"title":null}},
"layer":[
{"data":{"name":"eb"},"transform":[{"filter":"datum.p==3"}],"mark":{"type":"rule","clip":true,"strokeWidth":1.5,"opacity":0.5},"encoding":{"y":{"field":"lo","type":"quantitative","scale":{"domain":[0.5,3.5],"nice":false,"zero":false},"axis":{"values":[0.5,1,1.5,2,2.5,3,3.5],"format":".1f"},"title":"B2 εH [μm]"},"y2":{"field":"hi"},"color":{"field":"s","type":"nominal","scale":{"domain":["t1","t2","t3","t4"],"range":["#0000ff","#ffa500","#008000","#ff0000"]},"legend":null}}},
{"data":{"name":"p3"},"transform":[{"fold":["t1","t2","t3","t4"],"as":["s","v"]},{"filter":"isValid(datum.v)"}],"mark":{"type":"tick","orient":"vertical","size":26,"thickness":1.6,"opacity":0.45,"clip":true},"encoding":{"y":{"field":"v","type":"quantitative","title":"B2 εH [μm]"},"color":{"field":"s","type":"nominal","legend":null}}},
{"data":{"name":"p3"},"transform":[{"fold":["t1","t2","t3","t4"],"as":["s","v"]},{"filter":"isValid(datum.v)"}],"mark":{"type":"point","filled":true,"size":100,"opacity":1,"clip":true},"encoding":{"y":{"field":"v","type":"quantitative","title":"B2 εH [μm]"},"color":{"field":"s","type":"nominal","legend":null},"order":{"field":"s"}}},
{"data":{"name":"vl"},"transform":[{"filter":"datum.k=='s'"}],"mark":{"type":"rule","color":"#999999","strokeWidth":4},"encoding":{}},
{"data":{"name":"vl"},"transform":[{"filter":"datum.k=='d'"}],"mark":{"type":"rule","color":"#999999","strokeWidth":2,"strokeDash":[6,3]},"encoding":{}}
]},
{"width":1160,"height":298,
"encoding":{"x":{"field":"f","type":"quantitative","scale":{"domain":[6635.4,7270.6],"nice":false,"zero":false},"axis":{"values":[6700,6800,6900,7000,7100,7200],"format":"d"},"title":"Fill Number"}},
"layer":[
{"data":{"name":"eb"},"transform":[{"filter":"datum.p==4"}],"mark":{"type":"rule","clip":true,"strokeWidth":1.5,"opacity":0.5},"encoding":{"y":{"field":"lo","type":"quantitative","scale":{"domain":[0.5,3.5],"nice":false,"zero":false},"axis":{"values":[0.5,1,1.5,2,2.5,3,3.5],"format":".1f"},"title":"B2 εV [μm]"},"y2":{"field":"hi"},"color":{"field":"s","type":"nominal","scale":{"domain":["t1","t2","t3","t4"],"range":["#0000ff","#ffa500","#008000","#ff0000"]},"legend":null}}},
{"data":{"name":"p4"},"transform":[{"fold":["t1","t2","t3","t4"],"as":["s","v"]},{"filter":"isValid(datum.v)"}],"mark":{"type":"tick","orient":"vertical","size":26,"thickness":1.6,"opacity":0.45,"clip":true},"encoding":{"y":{"field":"v","type":"quantitative","title":"B2 εV [μm]"},"color":{"field":"s","type":"nominal","legend":null}}},
{"data":{"name":"p4"},"transform":[{"fold":["t1","t2","t3","t4"],"as":["s","v"]},{"filter":"isValid(datum.v)"}],"mark":{"type":"point","filled":true,"size":100,"opacity":1,"clip":true},"encoding":{"y":{"field":"v","type":"quantitative","title":"B2 εV [μm]"},"color":{"field":"s","type":"nominal","legend":null},"order":{"field":"s"}}},
{"data":{"name":"vl"},"transform":[{"filter":"datum.k=='s'"}],"mark":{"type":"rule","color":"#999999","strokeWidth":4},"encoding":{}},
{"data":{"name":"vl"},"transform":[{"filter":"datum.k=='d'"}],"mark":{"type":"rule","color":"#999999","strokeWidth":2,"strokeDash":[6,3]},"encoding":{}}
]}
],
"spacing":53,
"bounds":"flush",
"config":{
"font":"DejaVu Sans",
"view":{"stroke":"#222222","strokeWidth":1.2},
"axis":{"domain":false,"grid":true,"gridColor":"#c2c2c2","gridWidth":1.5,"tickColor":"#222222","tickSize":7,"tickWidth":1.2,"labelFont":"DejaVu Sans","labelFontSize":23,"labelColor":"#222222","labelPadding":6,"labelFlush":false,"labelOverlap":false,"titleFont":"DejaVu Sans","titleFontSize":24,"titleFontWeight":"bold","titleColor":"#000000"},
"axisY":{"titlePadding":12},
"axisX":{"titlePadding":5}
}
}
